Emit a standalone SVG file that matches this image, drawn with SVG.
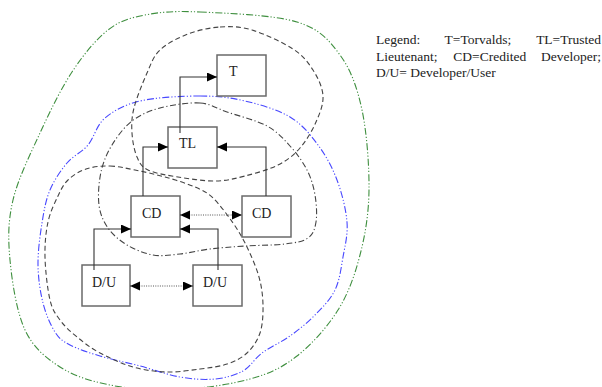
<svg xmlns="http://www.w3.org/2000/svg" width="602" height="387" viewBox="0 0 602 387">
<style>
.bnd{fill:none;stroke-width:1.1}
.green{stroke:#3f8f3f;stroke-dasharray:7 2 1.2 2 1.2 2}
.blue{stroke:#4848ff;stroke-dasharray:7 2 1.2 2 1.2 2}
.dash{stroke:#444;stroke-dasharray:5 3}
.dashdot{stroke:#444;stroke-dasharray:6 2.5 1.2 2.5}
.box{fill:#fff;stroke:#6a6a6a;stroke-width:1.5}
.lbl{font-family:"Liberation Serif","Times New Roman",serif;font-size:14px;fill:#222}
.leg{font-family:"Liberation Serif","Times New Roman",serif;font-size:13.5px;fill:#222}
.con{fill:none;stroke:#333;stroke-width:1.1}
.dot{fill:none;stroke:#555;stroke-width:1;stroke-dasharray:1 1.3}
</style>
<defs>
<marker id="ah" markerUnits="userSpaceOnUse" markerWidth="11" markerHeight="10" refX="10" refY="4.5" orient="auto-start-reverse">
<path d="M0,0 L10,4.5 L0,9 z" fill="#000"/>
</marker>
</defs>
<g id="boundaries">
<path id="b-green" class="bnd green" d="M200,12 C225.3,13.2 273.7,14.8 297,22 S329.2,40.3 340,55 S357.2,87.5 362,110 S369.3,165.8 369,190 S365.2,235 360,255 S348.5,293.2 338,310 S311.7,344.5 297,356 S270.3,373.3 250,379 S198.3,389 175,390 S129.2,388.8 110,385 S74.2,376.2 60,367 S33.3,347.8 25,330 S12,281.7 10,260 S8,221.2 13,200 S30.2,154.3 40,133 S60.7,89.2 72,72 S95.8,39.5 108,30 S129.7,18 145,15 S174.7,10.8 200,12 Z"/>
<path id="b-blue" class="bnd blue" d="M200,96 C217.5,96 230,97.5 245,101 S277.8,109.7 290,117 S310.2,134.5 318,145 S332.2,167.2 337,180 S346,209.2 347,222 S345,245.7 343,257 S339.7,280.3 335,290 S322.5,307.3 315,315 S298.8,329.7 290,336 S269.8,347.2 262,353 S250.8,366.7 243,371 S225.5,378 215,379 S192.5,379.2 180,377 S153.3,369.5 140,366 S111.7,359.5 100,356 S77.5,349 70,345 S59.5,339 55,332 S45.8,314.2 43,303 S38.2,278.3 38,265 S40,235.5 42,223 S45.8,200 50,190 S60.7,170.5 67,163 S81.7,152.5 88,145 S96.3,125.3 105,118 S124.2,104.7 140,101 S182.5,96 200,96 Z"/>
<path id="b-top" class="bnd dash" d="M220,27 C230.7,26.3 239.8,26.3 252,30 S282.8,42.3 293,49 S308,62.2 313,70 S322.5,87.3 323,96 S319.8,113.3 316,122 S306.3,140.8 300,148 S287.2,160.3 278,165 S255.5,173.3 245,176 S226.2,180.8 215,181 S189.2,178.8 178,177 S154.8,173.3 148,170 S139.7,163.2 137,157 S132.5,141.2 132,133 S131.5,118 134,108 S142.7,82.7 147,73 S153.2,56.5 160,50 S178,37.8 188,34 S209.3,27.7 220,27 Z"/>
<path id="b-cd" class="bnd dashdot" d="M200,103 C211.2,103.7 215.8,108.2 227,112 S256.5,120.3 267,126 S283.3,138.7 290,146 S302.8,161.8 307,170 S313.5,186.3 315,195 S317.2,214.8 316,222 S313.2,234.3 308,238 S295.5,242.7 285,244 S257.5,245.2 245,246 S220.8,247.7 210,249 S189.5,253 180,254 S161.8,256.5 153,255 S134.5,249.5 127,245 S112.7,234.7 108,228 S100.2,214.3 99,205 S98.8,182 101,172 S106.8,153.5 112,145 S124,127.2 132,121 S148.7,111 160,108 S188.8,102.3 200,103 Z"/>
<path id="b-du" class="bnd dash" d="M110,166 C118.2,166.2 125.8,168.2 135,170 S155,174.2 165,177 S187,183.5 195,187 S206.7,192 213,198 S227.3,214.8 233,223 S242.7,238 247,247 S256.3,267.3 259,277 S262.8,295.7 263,305 S262.7,325 260,333 S252.5,347.8 247,353 S234.8,361.3 227,364 S210,367.7 200,369 S178.2,372.3 167,372 S144.2,370.2 133,367 S109.3,358 100,353 S83.7,342.5 77,337 S64.5,326.2 60,320 S52.5,310.5 50,300 S45.3,270 45,257 S45.8,232.2 48,222 S54.7,203 58,196 S63.3,184.5 68,180 S79,171.3 86,169 S101.8,165.8 110,166 Z"/>
</g>
<g id="node-T"><rect class="box" x="217" y="55" width="49" height="41"/><text class="lbl" x="229" y="76">T</text></g>
<g id="node-TL"><rect class="box" x="168" y="127" width="49" height="41"/><text class="lbl" x="179" y="148">TL</text></g>
<g id="node-CD1"><rect class="box" x="131" y="196" width="49" height="41"/><text class="lbl" x="142" y="218">CD</text></g>
<g id="node-CD2"><rect class="box" x="242" y="196" width="49" height="41"/><text class="lbl" x="252" y="218">CD</text></g>
<g id="node-DU1"><rect class="box" x="82" y="265" width="48" height="41"/><text class="lbl" x="92" y="287">D/U</text></g>
<g id="node-DU2"><rect class="box" x="193" y="265" width="49" height="41"/><text class="lbl" x="203" y="287">D/U</text></g>
<g id="connectors">
<path class="con" d="M180,133 V77 H217" marker-end="url(#ah)"/>
<path class="con" d="M143,196 V147 H168" marker-end="url(#ah)"/>
<path class="con" d="M266,196 V147 H217" marker-end="url(#ah)"/>
<path class="con" d="M94,270 V229 H131" marker-end="url(#ah)"/>
<path class="con" d="M218,270 V229 H180" marker-end="url(#ah)"/>
<path class="dot" d="M180,215 H242" marker-start="url(#ah)" marker-end="url(#ah)"/>
<path class="dot" d="M130,286 H193" marker-start="url(#ah)" marker-end="url(#ah)"/>
</g>
<g id="legend">
<text class="leg" x="376" y="44">Legend:</text>
<text class="leg" x="444.6" y="44">T=Torvalds;</text>
<text class="leg" x="601" y="44" text-anchor="end">TL=Trusted</text>
<text class="leg" x="376" y="61">Lieutenant;</text>
<text class="leg" x="453.3" y="61">CD=Credited</text>
<text class="leg" x="601" y="61" text-anchor="end">Developer;</text>
<text class="leg" x="376" y="77">D/U= Developer/User</text>
</g>
</svg>
